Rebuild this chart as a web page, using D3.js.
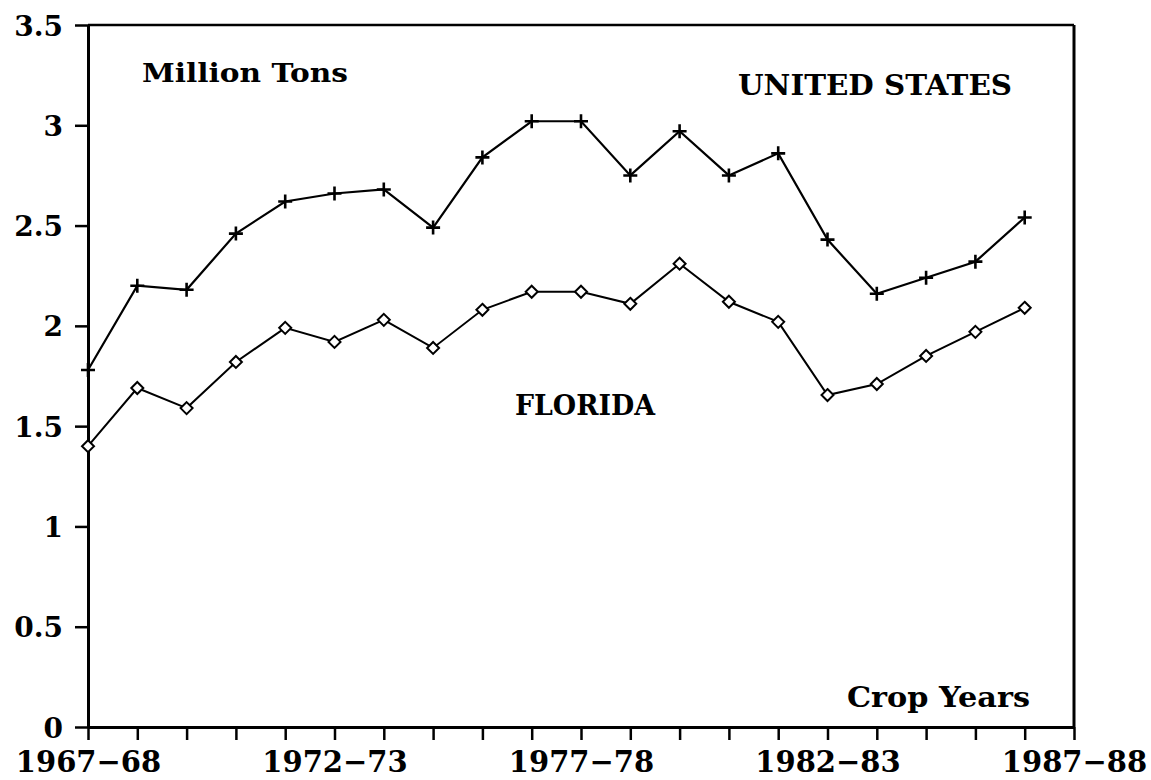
<!DOCTYPE html>
<html>
<head>
<meta charset="utf-8">
<script src="https://cdn.jsdelivr.net/npm/d3@7"></script>
<style>
  body { margin: 0; background: #fff; }
  svg text { font-family: "DejaVu Serif", serif; font-weight: bold; fill: #000; }
  .axis path, .axis line { stroke: #000; }
</style>
</head>
<body>
<div id="chart"></div>
<script>
// crop years on the x axis (last one is only an axis end)
var cropYears = ["1967-68","1968-69","1969-70","1970-71","1971-72","1972-73","1973-74",
  "1974-75","1975-76","1976-77","1977-78","1978-79","1979-80","1980-81","1981-82",
  "1982-83","1983-84","1984-85","1985-86","1986-87","1987-88"];
var labelYears = ["1967-68","1972-73","1977-78","1982-83","1987-88"];

// million tons
var usValues = [1.78, 2.20, 2.18, 2.46, 2.62, 2.66, 2.68, 2.49, 2.84, 3.02, 3.02,
  2.75, 2.97, 2.75, 2.86, 2.43, 2.16, 2.24, 2.32, 2.54];
var floridaValues = [1.40, 1.69, 1.59, 1.82, 1.99, 1.92, 2.03, 1.89, 2.08, 2.17, 2.17,
  2.11, 2.31, 2.12, 2.02, 1.655, 1.71, 1.85, 1.97, 2.09];
var yTicks = [0, 0.5, 1, 1.5, 2, 2.5, 3, 3.5];

var width = 1151, height = 780;
var margin = {top: 25, right: 77, bottom: 53, left: 88},
    w = width - margin.left - margin.right,
    h = height - margin.top - margin.bottom;

var svg = d3.select("#chart").append("svg")
    .attr("width", width)
    .attr("height", height)
  .append("g")
    .attr("transform", "translate(" + margin.left + "," + margin.top + ")");

var x = d3.scaleLinear().domain([0, cropYears.length - 1]).range([0, w]);
var y = d3.scaleLinear().domain([0, 3.5]).range([h, 0]);

// frame (top and right)
svg.append("line").attr("x1", 0).attr("x2", w).attr("y1", 0).attr("y2", 0)
    .attr("stroke", "#000").attr("stroke-width", 2.5);
svg.append("line").attr("x1", w).attr("x2", w).attr("y1", 0).attr("y2", h)
    .attr("stroke", "#000").attr("stroke-width", 3);

// y axis
var yAxis = svg.append("g").attr("class", "axis")
    .call(d3.axisLeft(y).tickValues(yTicks).tickSize(13).tickSizeOuter(0)
      .tickFormat(d => d));
yAxis.select(".domain").attr("stroke-width", 3);
yAxis.selectAll(".tick line").attr("stroke-width", 2.5);
yAxis.selectAll(".tick text")
    .attr("x", -25)
    .attr("dy", "0.36em")
    .style("font-size", "28px");

// x axis, one tick per crop year
var xAxis = svg.append("g").attr("class", "axis")
    .attr("transform", "translate(0," + h + ")")
    .call(d3.axisBottom(x).tickValues(d3.range(cropYears.length)).tickSize(13).tickSizeOuter(0)
      .tickFormat(i => labelYears.indexOf(cropYears[i]) > -1 ? cropYears[i].replace("-", "\u2212") : ""));
xAxis.select(".domain").attr("stroke-width", 3);
xAxis.selectAll(".tick line").attr("stroke-width", 2.5);
xAxis.selectAll(".tick text")
    .attr("y", 45)
    .attr("dy", 0)
    .style("font-size", "29px");

// lines
var line = d3.line().x((d, i) => x(i)).y(d => y(d));

svg.append("path").datum(usValues)
    .attr("d", line).attr("fill", "none").attr("stroke", "#000").attr("stroke-width", 2.2);
svg.append("path").datum(floridaValues)
    .attr("d", line).attr("fill", "none").attr("stroke", "#000").attr("stroke-width", 2);

// plus markers (United States)
svg.selectAll(".plus").data(usValues).enter().append("path")
    .attr("class", "plus")
    .attr("transform", (d, i) => "translate(" + x(i) + "," + y(d) + ")")
    .attr("d", "M-7,0H7M0,-7V7")
    .attr("stroke", "#000").attr("stroke-width", 2.6);

// diamond markers (Florida)
svg.selectAll(".diamond").data(floridaValues).enter().append("path")
    .attr("class", "diamond")
    .attr("transform", (d, i) => "translate(" + x(i) + "," + y(d) + ")")
    .attr("d", "M0,-6L6,0L0,6L-6,0Z")
    .attr("fill", "#fff").attr("stroke", "#000").attr("stroke-width", 2);

// labels
svg.append("text").attr("x", 54).attr("y", 57).style("font-size", "26px")
    .attr("textLength", 206).attr("lengthAdjust", "spacingAndGlyphs").text("Million Tons");
svg.append("text").attr("x", 650).attr("y", 70).style("font-size", "27px")
    .attr("textLength", 274).attr("lengthAdjust", "spacingAndGlyphs").text("UNITED STATES");
svg.append("text").attr("x", 427).attr("y", 390).style("font-size", "28px")
    .attr("textLength", 140).attr("lengthAdjust", "spacingAndGlyphs").text("FLORIDA");
svg.append("text").attr("x", 759).attr("y", 682).style("font-size", "28px")
    .attr("textLength", 183).attr("lengthAdjust", "spacingAndGlyphs").text("Crop Years");
</script>
</body>
</html>
